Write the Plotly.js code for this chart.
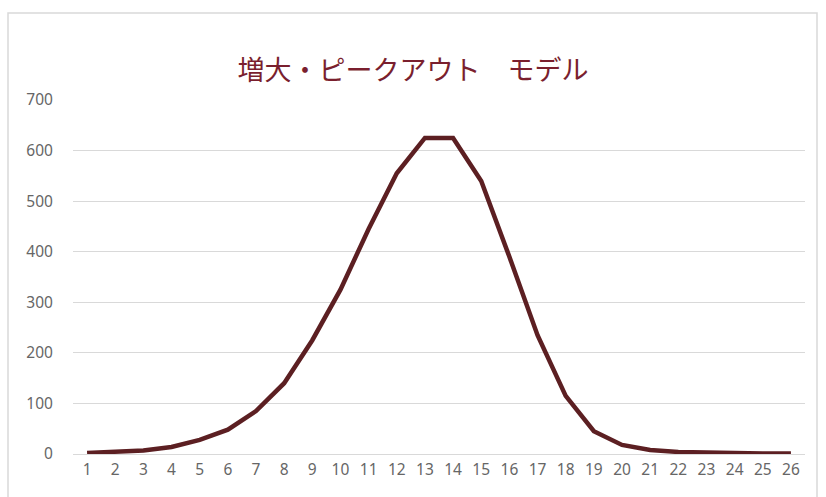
<!DOCTYPE html>
<html>
<head>
<meta charset="utf-8">
<script src="https://cdn.plot.ly/plotly-3.0.1.min.js"></script>
<style>html,body{margin:0;padding:0;background:#fff;}#chart{width:826px;height:497px;}</style>
</head>
<body>
<div id="chart"></div>
<script>
const categories = ["1","2","3","4","5","6","7","8","9","10","11","12","13","14","15","16","17","18","19","20","21","22","23","24","25","26"];
const values = [2,4,7,14,28,48,85,140,225,325,445,555,625,625,540,390,235,115,45,18,8,4,4,2,1,1];
const chartTitle = "増大・ピークアウト\u3000モデル";

const trace = {
  x: categories,
  y: values,
  type: 'scatter',
  mode: 'lines',
  line: {color: '#5c1f22', width: 4.5},
  hoverinfo: 'skip'
};

const layout = {
  width: 826, height: 497,
  margin: {l: 73, r: 21, t: 100, b: 43},
  paper_bgcolor: '#ffffff',
  plot_bgcolor: '#ffffff',
  showlegend: false,
  title: {
    text: chartTitle,
    font: {family: 'Noto Sans CJK JP, sans-serif', size: 27, color: '#7a1f2e'},
    x: 0.5, xanchor: 'center',
    y: 1 - 71/497, yref: 'container', yanchor: 'middle'
  },
  xaxis: {
    type: 'category',
    range: [-0.5, 25.5],
    showgrid: false,
    zeroline: false,
    showline: false,
    ticks: 'outside', ticklen: 1, tickcolor: 'rgba(0,0,0,0)',
    tickfont: {family: 'Noto Sans, sans-serif', size: 15.5, color: '#666666'}
  },
  yaxis: {
    range: [0, 700],
    dtick: 100,
    showgrid: true,
    gridcolor: '#d9d9d9',
    gridwidth: 1,
    zeroline: true,
    zerolinecolor: '#d9d9d9',
    zerolinewidth: 1,
    showline: false,
    ticks: 'outside', ticklen: 16, tickcolor: 'rgba(0,0,0,0)',
    tickfont: {family: 'Noto Sans, sans-serif', size: 15.5, color: '#666666'}
  },
  shapes: [{
    type: 'rect', xref: 'paper', yref: 'paper', layer: 'below',
    x0: (8 - 73) / 732, x1: (817 - 73) / 732,
    y0: (454 - 520) / 354, y1: (454 - 13) / 354,
    line: {color: '#d9d9d9', width: 1.5}, fillcolor: 'rgba(0,0,0,0)'
  }]
};

Plotly.newPlot('chart', [trace], layout, {displayModeBar: false, staticPlot: true});
</script>
</body>
</html>
